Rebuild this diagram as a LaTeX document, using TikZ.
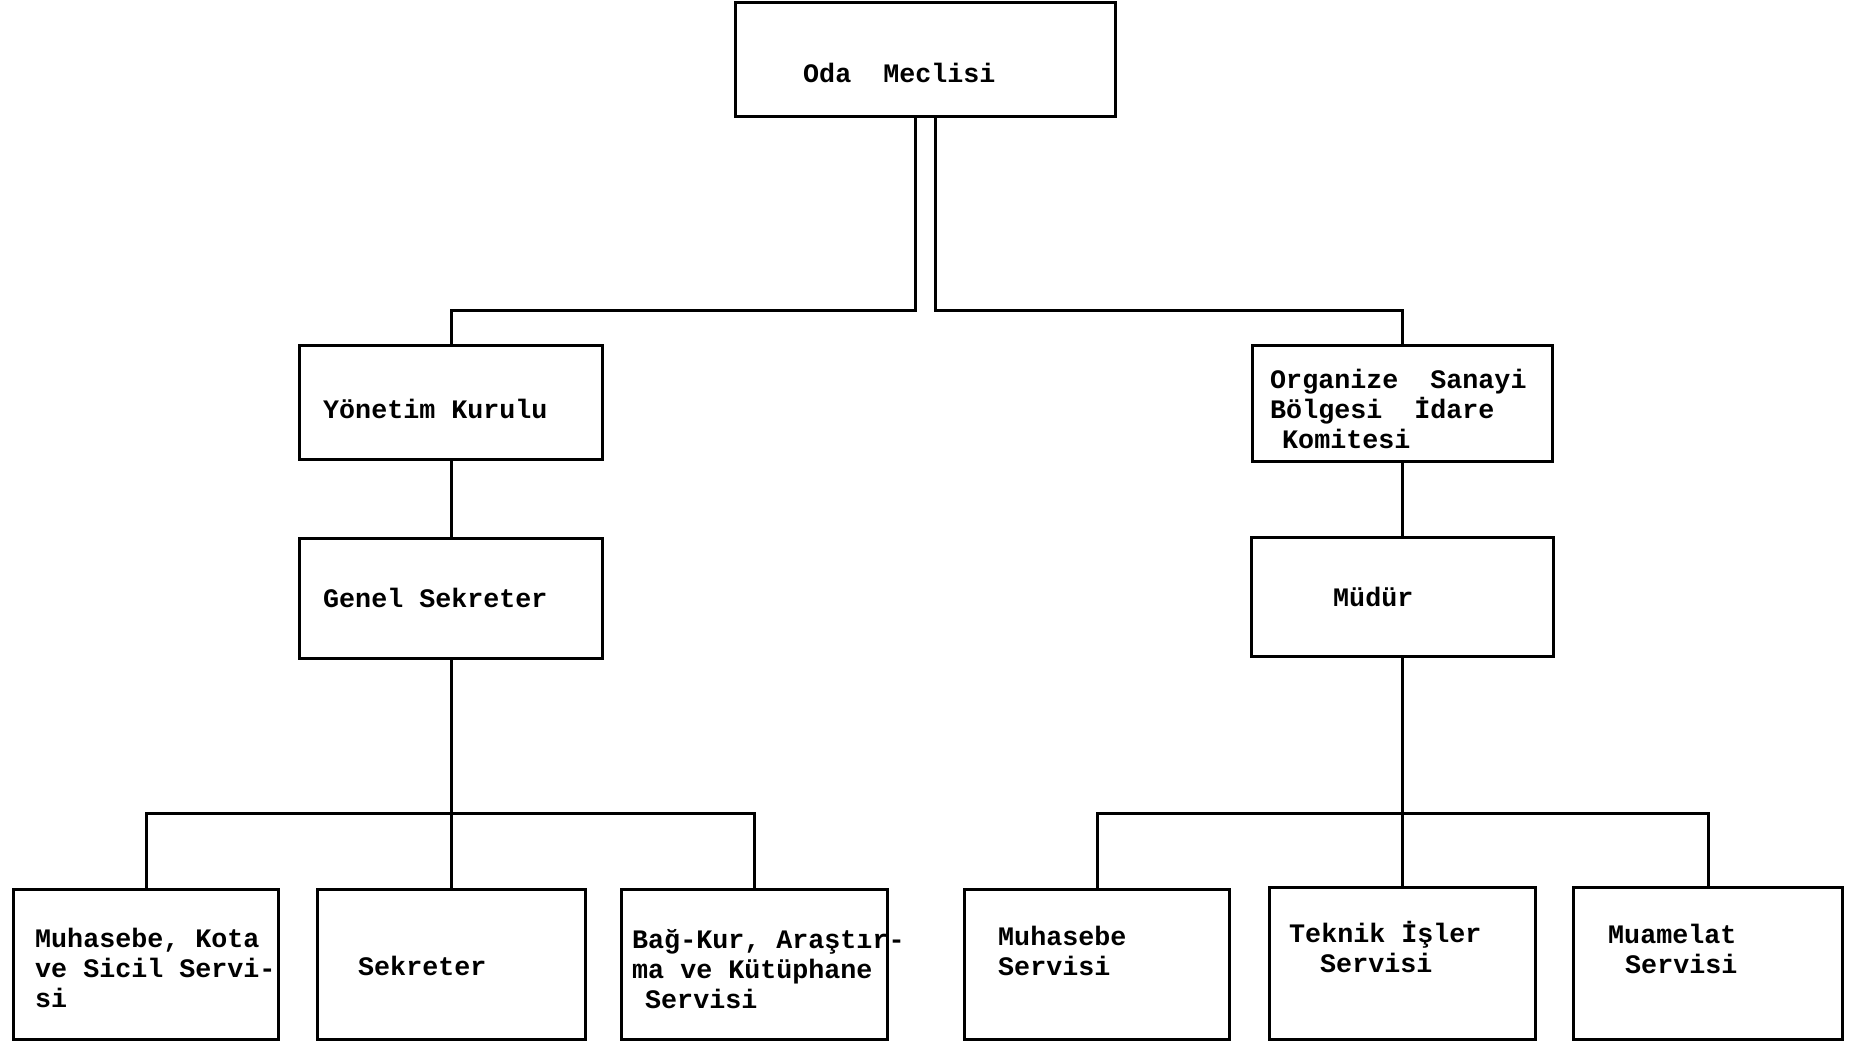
\documentclass[tikz,border=0pt]{standalone}
\usepackage{fontspec}
\newfontfamily\typewriter{Liberation Mono}
\usepackage{tikz}

\tikzset{
  unit/.style={draw, line width=3pt, rectangle, inner sep=0pt},
  caption/.style={anchor=base west, align=left, inner sep=0pt,
    font=\typewriter\bfseries\fontsize{26.7}{30}\selectfont},
  link/.style={line width=3pt}
}

\begin{document}
\begin{tikzpicture}[x=1pt,y=-1pt]
    \useasboundingbox (0,0) rectangle (1850,1043);
    % boxes
    \node[unit, minimum width=380pt, minimum height=114pt] (oda) at (925,60) {};
    \node[unit, minimum width=303pt, minimum height=114pt] (yon) at (451,402) {};
    \node[unit, minimum width=303pt, minimum height=120pt] (gen) at (451,598) {};
    \node[unit, minimum width=300pt, minimum height=116pt] (org) at (1402,403) {};
    \node[unit, minimum width=302pt, minimum height=119pt] (mud) at (1402,597) {};
    \node[unit, minimum width=265pt, minimum height=150pt] (b1) at (146,964) {};
    \node[unit, minimum width=268pt, minimum height=150pt] (b2) at (451,964) {};
    \node[unit, minimum width=266pt, minimum height=150pt] (b3) at (754,964) {};
    \node[unit, minimum width=265pt, minimum height=150pt] (b4) at (1097,964) {};
    \node[unit, minimum width=266pt, minimum height=152pt] (b5) at (1402,963) {};
    \node[unit, minimum width=269pt, minimum height=152pt] (b6) at (1708,963) {};
    % joints
    \coordinate (jl) at (915,310);
    \coordinate (jr) at (935,310);
    \coordinate (gl) at (451,813);
    \coordinate (gr) at (1402,813);
    % lines
    \draw[link] (jl |- oda.south) -- (jl) -| (yon.north);
    \draw[link] (jr |- oda.south) -- (jr) -| (org.north);
    \draw[link] (yon.south) -- (gen.north);
    \draw[link] (org.south) -- (mud.north);
    \draw[link] (gen.south) -- (gl);
    \draw[link] (b1.north) |- (gl) -| (b3.north);
    \draw[link] (gl) -- (b2.north);
    \draw[link] (mud.south) -- (gr);
    \draw[link] (b4.north) |- (gr) -| (b6.north);
    \draw[link] (gr) -- (b5.north);
    % texts (base = last line)
    \node[caption] (odat) at (803,83) {Oda\ \ Meclisi};
    \node[caption] (yont) at (323,418) {Yönetim Kurulu};
    \node[caption] (gent) at (323,607) {Genel Sekreter};
    \node[caption] (orgt) at (1270,448) {Organize\ \ Sanayi\\Bölgesi\ \ İdare\\\hspace*{12pt}Komitesi};
    \node[caption] (mudt) at (1333,606) {Müdür};
    \node[caption] (b1t) at (35,1007) {Muhasebe, Kota\\ve Sicil Servi-\\si};
    \node[caption] (b2t) at (358,975) {Sekreter};
    \node[caption] (b3t) at (632,1008) {Bağ-Kur, Araştır-\\ma ve Kütüphane\\\hspace*{13pt}Servisi};
    \node[caption] (b4t) at (998,975) {Muhasebe\\Servisi};
    \node[caption] (b5t) at (1289,972) {Teknik İşler\\\hspace*{31pt}Servisi};
    \node[caption] (b6t) at (1608,973) {Muamelat\\\hspace*{17pt}Servisi};
  \end{tikzpicture}
\end{document}
